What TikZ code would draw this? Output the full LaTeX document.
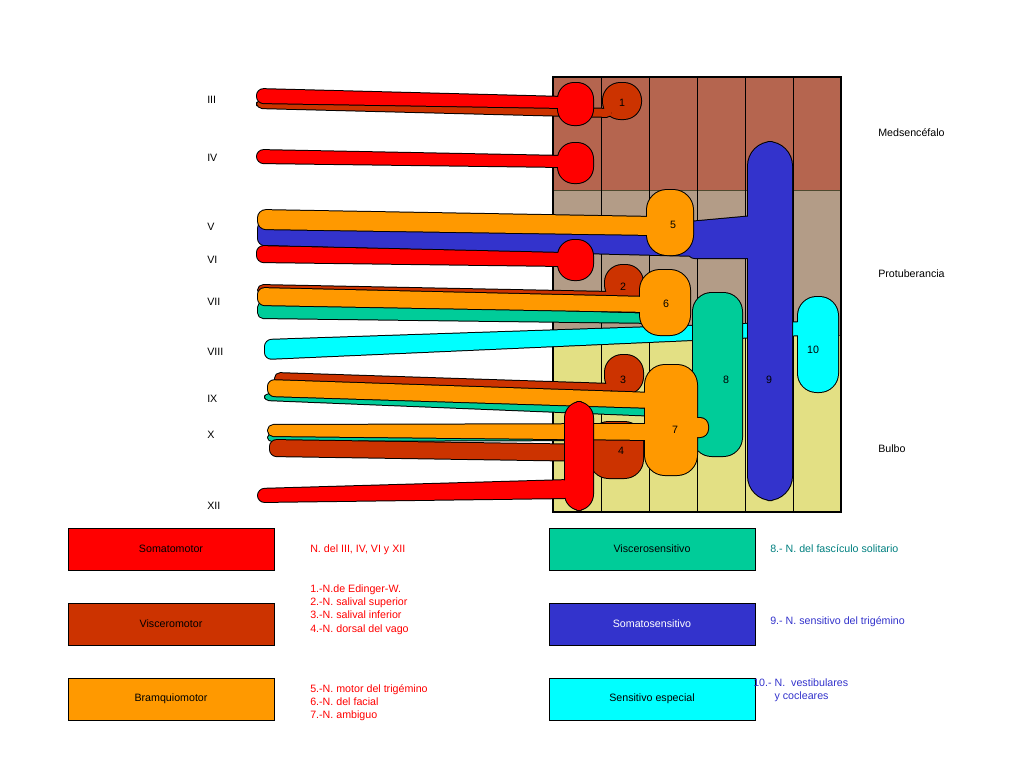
\documentclass[tikz,border=0pt]{standalone}
\usepackage{fontspec}
\setmainfont{Liberation Sans}
\begin{document}
\begin{tikzpicture}[x=0.75pt,y=-0.75pt,
  lbl/.style={font=\fontsize{8}{9}\selectfont,inner sep=0pt},
  box/.style={draw=black,line width=0.6pt,minimum width=154.5pt,minimum height=31.5pt,font=\fontsize{8}{9}\selectfont},
  lst/.style={font=\fontsize{8}{10}\selectfont,align=left,anchor=north west,inner sep=0pt}]
\definecolor{somm}{HTML}{FF0000}\definecolor{visc}{HTML}{CC3300}\definecolor{bram}{HTML}{FF9900}
\definecolor{vsen}{HTML}{00CC99}\definecolor{ssen}{HTML}{3333CC}\definecolor{sesp}{HTML}{00FFFF}
\definecolor{bandA}{HTML}{B5654F}\definecolor{bandB}{HTML}{B39C87}\definecolor{bandC}{HTML}{E3E084}
\useasboundingbox[fill=white] (0,0) rectangle (1024,768);
\def\nv#1#2{\path[draw=black,line width=1.5pt,line join=round]#2;\path[fill=#1]#2;}
% background
\fill[bandA] (553,77) rectangle (841,190);
\fill[bandB] (553,190) rectangle (841,335);
\fill[bandC] (553,335) rectangle (841,512);
\draw[black!60!olive,line width=0.5pt] (553,190)--(841,190) (553,335)--(841,335);
\foreach \x in {601,649,697,745,793} \draw[line width=0.6pt] (\x,77)--(\x,512);
\draw[line width=0.8pt] (553,77) rectangle (841,512);
% cyan VIII / 10
\nv{sesp}{[rounded corners=5] (265,340)--(265,359)--(805,335)--(805,322)--cycle [rounded corners=14] (798,297) rectangle (838,392)}
% blue 9
\nv{ssen}{[rounded corners=5] (258,222)--(258,245)--(700,256)--(700,232)--cycle (688,222)--(688,258)--(765,258)--(765,215)--cycle [rounded corners=18] (748,142) rectangle (792,500)}
% green 8 and stalks
\nv{vsen}{[rounded corners=14] (693,293) rectangle (742,456)}
\nv{vsen}{[rounded corners=4] (258,302)--(258,318)--(660,323)--(660,314)--cycle}
\nv{vsen}{[rounded corners=3] (265,394)--(265,400)--(660,416)--(660,409)--cycle}
\nv{vsen}{[rounded corners=3] (268,434)--(268,441)--(615,440)--(615,434)--cycle}
% brown 1-4
\nv{visc}{[rounded corners=4] (257,100)--(257,108)--(612,117)--(612,109)--cycle [rounded corners=13] (603,83) rectangle (641,119)}
\nv{visc}{[rounded corners=4] (258,285)--(258,295)--(612,302)--(612,292)--cycle [rounded corners=13] (605,265) rectangle (643,302)}
\nv{visc}{[rounded corners=4] (275,373)--(275,384)--(612,393)--(612,384)--cycle [rounded corners=13] (605,355) rectangle (643,394)}
\nv{visc}{[rounded corners=5] (270,440)--(270,456)--(600,461)--(600,445)--cycle [rounded corners=14] (590,422) rectangle (643,478)}
% orange 5-7
\nv{bram}{[rounded corners=6] (258,210)--(258,229)--(655,235)--(655,217)--cycle [rounded corners=15] (647,190) rectangle (693,255)}
\nv{bram}{[rounded corners=5] (258,288)--(258,305)--(650,312)--(650,297)--cycle [rounded corners=15] (640,270) rectangle (690,335)}
\nv{bram}{[rounded corners=5] (268,380)--(268,396)--(655,408)--(655,393)--cycle [rounded corners=4] (268,425)--(268,436)--(655,440)--(655,424)--cycle [rounded corners=15] (645,365) rectangle (697,475) [rounded corners=6] (690,418) rectangle (708,437)}
% red
\nv{somm}{[rounded corners=5] (257,89)--(257,103)--(565,108)--(565,97)--cycle [rounded corners=12] (558,83) rectangle (593,125)}
\nv{somm}{[rounded corners=5] (257,150)--(257,163)--(565,167)--(565,156)--cycle [rounded corners=12] (558,143) rectangle (593,183)}
\nv{somm}{[rounded corners=5] (257,246)--(257,262)--(565,266)--(565,253)--cycle [rounded corners=12] (558,240) rectangle (593,280)}
\nv{somm}{[rounded corners=5] (258,489)--(258,502)--(570,498)--(570,480)--cycle [rounded corners=12] (565,402) rectangle (593,510)}
% numbers
\foreach \t/\x/\y in {1/622/103,2/623/287,3/623/380,4/621/451,5/673/225,6/666/304,7/675/430,8/726/380,9/769/380,10/813/350}
  \node[lbl] (n\t) at (\x,\y) {\t};
% roman labels
\foreach \t/\y in {III/100,IV/158,V/227,VI/260,VII/302,VIII/352,IX/399,X/435,XII/506}
  \node[lbl,anchor=west] (r\t) at (207,\y) {\t};
\node[lbl,anchor=west] (med) at (878,133) {Medsencéfalo};
\node[lbl,anchor=west] (pro) at (878,274) {Protuberancia};
\node[lbl,anchor=west] (bul) at (878,449) {Bulbo};
% legend
\node[box,fill=somm] (b1) at (171,549) {Somatomotor};
\node[box,fill=visc] (b2) at (171,624) {Visceromotor};
\node[box,fill=bram] (b3) at (171,699) {Bramquiomotor};
\node[box,fill=vsen] (b4) at (652,549) {Viscerosensitivo};
\node[box,fill=ssen,text=white] (b5) at (652,624) {Somatosensitivo};
\node[box,fill=sesp] (b6) at (652,699) {Sensitivo especial};
\node[lst,text=somm] (t1) at (310,544) {N. del III, IV, VI y XII};
\node[lst,text=somm] (t2) at (310,584) {1.-N.de Edinger-W.\\2.-N. salival superior\\3.-N. salival inferior\\4.-N. dorsal del vago};
\node[lst,text=somm] (t3) at (310,684) {5.-N. motor del trigémino\\6.-N. del facial\\7.-N. ambiguo};
\node[lst,text=teal] (t4) at (770,544) {8.- N. del fascículo solitario};
\node[lst,text=ssen] (t5) at (770,616) {9.- N. sensitivo del trigémino};
\node[lst,text=ssen] (t6) at (753,678) {10.- N.\ \ vestibulares\\\hspace*{16pt}y cocleares};
\end{tikzpicture}
\end{document}
